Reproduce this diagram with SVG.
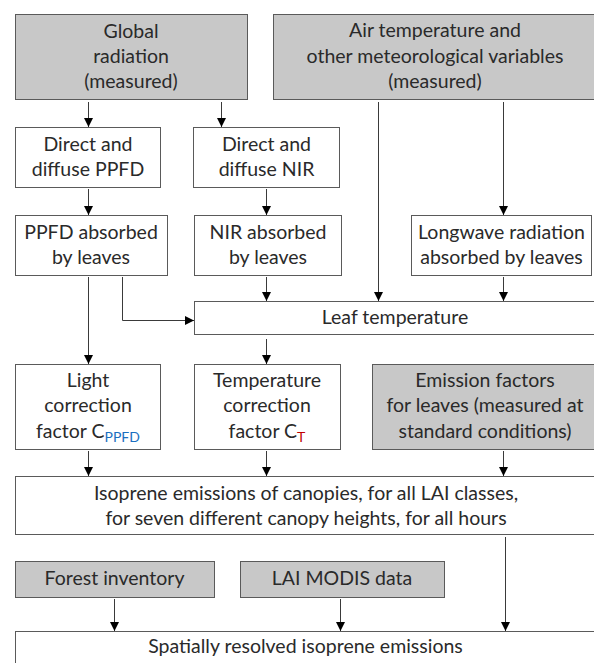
<svg xmlns="http://www.w3.org/2000/svg" width="594" height="663" viewBox="0 0 594 663">
<style>
.box{fill:#ffffff;stroke:#5a5a5a;stroke-width:1}
.grey{fill:#c8c8c8;stroke:#5a5a5a;stroke-width:1}
text{font-family:Lato,"Liberation Sans",sans-serif;font-size:19.5px;fill:#2a2a2a;text-anchor:middle}
.ln{fill:none;stroke:#3a3a3a;stroke-width:1}
</style>
<defs>
<marker id="ah" markerUnits="userSpaceOnUse" markerWidth="10" markerHeight="10" viewBox="0 0 10 10" refX="9" refY="5" orient="auto">
<path d="M0,0.5 L9,5 L0,9.5 Z" fill="#000"/>
</marker>
</defs>
<rect width="594" height="663" fill="#ffffff"/>

<g id="global-radiation">
<rect class="grey" x="15.5" y="14.5" width="232" height="85"/>
<text x="131" y="38">Global</text>
<text x="131" y="63">radiation</text>
<text x="131" y="88">(measured)</text>
</g>
<g id="air-temperature">
<rect class="grey" x="273.5" y="14.5" width="330" height="85"/>
<text x="435" y="37">Air temperature and</text>
<text x="435" y="63">other meteorological variables</text>
<text x="435" y="88">(measured)</text>
</g>
<g id="ppfd">
<rect class="box" x="15.5" y="127.5" width="145" height="60"/>
<text x="88" y="151">Direct and</text>
<text x="88" y="176">diffuse PPFD</text>
</g>
<g id="nir">
<rect class="box" x="193.5" y="127.5" width="146" height="60"/>
<text x="266.5" y="151">Direct and</text>
<text x="266.5" y="176">diffuse NIR</text>
</g>
<g id="ppfd-absorbed">
<rect class="box" x="15.5" y="215.5" width="152" height="60"/>
<text x="91" y="239">PPFD absorbed</text>
<text x="91" y="264">by leaves</text>
</g>
<g id="nir-absorbed">
<rect class="box" x="194.5" y="215.5" width="147" height="60"/>
<text x="268" y="239">NIR absorbed</text>
<text x="268" y="264">by leaves</text>
</g>
<g id="longwave">
<rect class="box" x="411.5" y="215.5" width="180" height="60"/>
<text x="501.5" y="239">Longwave radiation</text>
<text x="501.5" y="264">absorbed by leaves</text>
</g>
<g id="leaf-temperature">
<rect class="box" x="194.5" y="301.5" width="410" height="33"/>
<text x="395" y="324">Leaf temperature</text>
</g>
<g id="light-correction">
<rect class="box" x="15.5" y="364.5" width="145" height="85"/>
<text x="88" y="387">Light</text>
<text x="88" y="412">correction</text>
<text x="88" y="438">factor C<tspan font-size="14" dy="4" fill="#1a6fc0">PPFD</tspan></text>
</g>
<g id="temperature-correction">
<rect class="box" x="194.5" y="364.5" width="146" height="85"/>
<text x="267" y="387">Temperature</text>
<text x="267" y="412">correction</text>
<text x="267" y="438">factor C<tspan font-size="14" dy="4" fill="#c00000">T</tspan></text>
</g>
<g id="emission-factors">
<rect class="grey" x="372.5" y="364.5" width="230" height="85"/>
<text x="485" y="387">Emission factors</text>
<text x="485" y="412">for leaves (measured at</text>
<text x="485" y="438">standard conditions)</text>
</g>
<g id="isoprene">
<rect class="box" x="15.5" y="476.5" width="590" height="58"/>
<text x="306" y="500">Isoprene emissions of canopies, for all LAI classes,</text>
<text x="306" y="525">for seven different canopy heights, for all hours</text>
</g>
<g id="forest-inventory">
<rect class="grey" x="15.5" y="561.5" width="199" height="36"/>
<text x="114.5" y="585">Forest inventory</text>
</g>
<g id="lai-modis">
<rect class="grey" x="240.5" y="561.5" width="204" height="36"/>
<text x="342" y="585">LAI MODIS data</text>
</g>
<g id="spatially">
<rect class="box" x="15.5" y="631.5" width="590" height="60"/>
<text x="305.5" y="653">Spatially resolved isoprene emissions</text>
</g>

<g id="connectors">
<line class="ln" x1="88.5" y1="102" x2="88.5" y2="127" marker-end="url(#ah)"/>
<line class="ln" x1="221.5" y1="102" x2="221.5" y2="127" marker-end="url(#ah)"/>
<line class="ln" x1="88.5" y1="189" x2="88.5" y2="215" marker-end="url(#ah)"/>
<line class="ln" x1="266.5" y1="189" x2="266.5" y2="215" marker-end="url(#ah)"/>
<line class="ln" x1="378.5" y1="102" x2="378.5" y2="301" marker-end="url(#ah)"/>
<line class="ln" x1="503.5" y1="102" x2="503.5" y2="215" marker-end="url(#ah)"/>
<line class="ln" x1="503.5" y1="277" x2="503.5" y2="301" marker-end="url(#ah)"/>
<line class="ln" x1="266.5" y1="277" x2="266.5" y2="301" marker-end="url(#ah)"/>
<polyline class="ln" points="122.5,277 122.5,320.5 194,320.5" marker-end="url(#ah)"/>
<line class="ln" x1="88.5" y1="277" x2="88.5" y2="364" marker-end="url(#ah)"/>
<line class="ln" x1="266.5" y1="339" x2="266.5" y2="364" marker-end="url(#ah)"/>
<line class="ln" x1="88.5" y1="451" x2="88.5" y2="476" marker-end="url(#ah)"/>
<line class="ln" x1="266.5" y1="451" x2="266.5" y2="476" marker-end="url(#ah)"/>
<line class="ln" x1="503.5" y1="451" x2="503.5" y2="476" marker-end="url(#ah)"/>
<line class="ln" x1="114.5" y1="599" x2="114.5" y2="631" marker-end="url(#ah)"/>
<line class="ln" x1="340.5" y1="599" x2="340.5" y2="631" marker-end="url(#ah)"/>
<line class="ln" x1="505.5" y1="537" x2="505.5" y2="631" marker-end="url(#ah)"/>
</g>
</svg>
